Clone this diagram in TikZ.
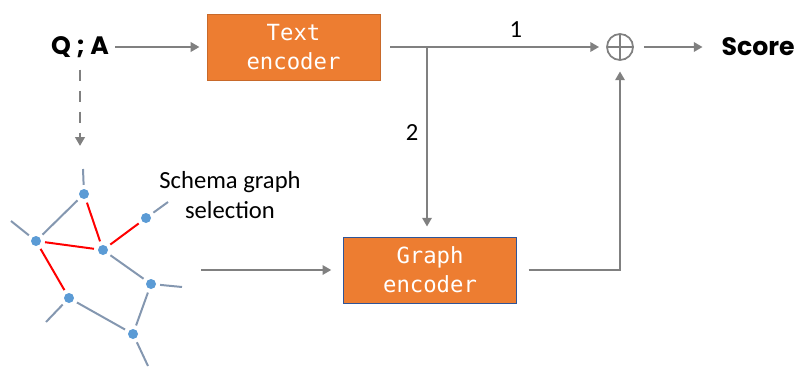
\documentclass[tikz,border=0pt]{standalone}
\usepackage{fontspec}
\setmainfont{Carlito}
\newfontfamily\encfont{DejaVu Sans Mono}
\newfontfamily\headfont{Poppins}
\usetikzlibrary{arrows.meta, positioning}

\definecolor{encorange}{HTML}{ED7D31}
\definecolor{encedge}{HTML}{C8692A}
\definecolor{graphedge}{HTML}{2F5597}
\definecolor{arrowgray}{HTML}{808080}
\definecolor{nodeblue}{HTML}{5B9BD5}
\definecolor{linkgray}{HTML}{8497B0}

\tikzset{
  flow/.style={draw=arrowgray, line width=2.3pt, -{Triangle[length=7.5pt, width=8pt]}},
  encoder/.style={rectangle, fill=encorange, text=white, minimum width=5.19cm,
    minimum height=1.98cm, align=center, line width=0.8pt,
    font=\encfont\fontsize{19}{25}\selectfont},
  headline/.style={inner sep=2pt, font=\headfont\bfseries\fontsize{21.5}{25}\selectfont},
  vertex/.style={circle, fill=nodeblue, minimum size=0.3cm, inner sep=0pt, outer sep=3.5pt},
  link/.style={draw=linkgray, line width=1.7pt},
  picked/.style={draw=red, line width=1.7pt}
}

\begin{document}
\begin{tikzpicture}[x=0.03cm, y=-0.03cm, font=\fontsize{21}{25}\selectfont]
    \useasboundingbox (0,0) rectangle (797,367);

    % main blocks
    \node (qa) [headline] at (80,47) {Q ; A};
    \node (text) [encoder, draw=encedge] at (293.5,47) {Text\\encoder};
    \node (graph) [encoder, draw=graphedge] at (430,270) {Graph\\encoder};
    \node (plus) [circle, draw=arrowgray, line width=1.5pt, minimum size=0.78cm, inner sep=0pt,
        path picture={\draw[arrowgray, line width=1.5pt]
            (path picture bounding box.north) -- (path picture bounding box.south)
            (path picture bounding box.west) -- (path picture bounding box.east);}] at (620,47) {};
    \node (score) [headline, anchor=west] at (719,47) {Score};
    \node (sel) [align=center] at (230,195) {Schema graph\\selection};

    \coordinate (split) at (427,47);
    \coordinate (down) at (80,146);
    \coordinate (sketch) at (201,270);

    % schema graph
    \node (v1) [vertex] at (84,194) {};
    \node (v2) [vertex] at (146,218) {};
    \node (v3) [vertex] at (36,241) {};
    \node (v4) [vertex] at (103,250) {};
    \node (v5) [vertex] at (151,284) {};
    \node (v6) [vertex] at (69,298) {};
    \node (v7) [vertex] at (133,334) {};
    \coordinate (s1) at (83,169);
    \coordinate (s2) at (168,202);
    \coordinate (s3) at (11,221);
    \coordinate (s5) at (182,287);
    \coordinate (s6) at (46,322);
    \coordinate (s7) at (148,366);

    \path[link]
        (v1) edge (v3)
        (v4) edge (v5)
        (v5) edge (v7)
        (v6) edge (v7)
        (v1) edge (s1)
        (v2) edge (s2)
        (v3) edge (s3)
        (v5) edge (s5)
        (v6) edge (s6)
        (v7) edge (s7);
    \path[picked]
        (v1) edge (v4)
        (v3) edge (v4)
        (v4) edge (v2)
        (v3) edge (v6);

    % connectors
    \draw[flow, shorten <=3pt, shorten >=6pt] (qa) -- (text);
    \draw[flow, shorten <=8.5pt, shorten >=6pt] (text) -- node[above=4pt, pos=0.6] {1} (plus);
    \draw[flow, shorten >=8.5pt] (split) -- node[left=3pt, pos=0.45] {2} (split |- graph.north);
    \draw[flow, shorten <=10pt, shorten >=9pt] (graph.east) -| (plus.south);
    \draw[flow, shorten <=8.5pt, shorten >=14pt] (plus) -- (score);
    \draw[flow, dash pattern=on 10pt off 8pt, shorten <=8pt] (qa.south) -- (down);
    \draw[flow, shorten >=10pt] (sketch) -- (graph.west);
\end{tikzpicture}
\end{document}
